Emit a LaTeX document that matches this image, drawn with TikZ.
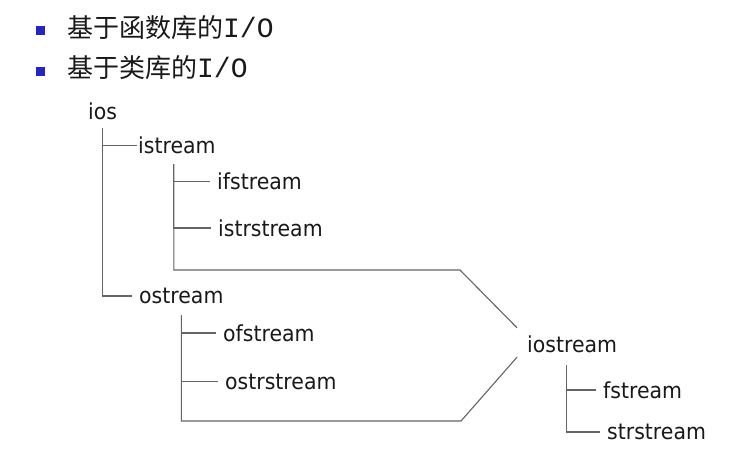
\documentclass[tikz,border=0pt]{standalone}
\usepackage{fontspec}
\usepackage{xcolor}
\usepackage{tikz}
\newfontfamily\cjk{Noto Sans CJK SC}
\newfontfamily\iofont{Liberation Mono}
\newfontfamily\treefont[FakeStretch=0.93]{DejaVu Sans}
\definecolor{ink}{RGB}{25,25,25}
\definecolor{wire}{RGB}{100,100,100}
\definecolor{bulletblue}{RGB}{38,38,190}
\newcommand{\io}{{\iofont\fontsize{28}{32}\selectfont I/O}}
\tikzset{
  heading/.style={anchor=west,inner sep=0pt,text=ink,
    font=\cjk\fontsize{26}{30}\selectfont},
  bulletsq/.style={fill=bulletblue,minimum size=9pt,inner sep=0pt},
  cls/.style={anchor=west,inner xsep=7pt,inner ysep=2pt,text=ink,
    font=\treefont\fontsize{22}{26}\selectfont},
  wireline/.style={wire,line width=1.1pt}
}

\begin{document}
\begin{tikzpicture}[x=1pt,y=-1pt]
  \useasboundingbox[fill=white] (0,0) rectangle (753,450);
  % headings
  \node[bulletsq] (b1) at (40,30.5) {};
  \node[bulletsq] (b2) at (40,71.5) {};
  \node[heading] (h1) at (67,28) {基于函数库的\io};
  \node[heading] (h2) at (67,67.5) {基于类库的\io};
  % class tree
  \node[cls] (ios) at (81,111.5) {ios};
  \node[cls] (istream) at (131,145.5) {istream};
  \node[cls] (ifstream) at (210,181.5) {ifstream};
  \node[cls] (istrstream) at (211,228) {istrstream};
  \node[cls] (ostream) at (132,296) {ostream};
  \node[cls] (ofstream) at (216,333) {ofstream};
  \node[cls] (ostrstream) at (218,381.5) {ostrstream};
  \node[cls] (iostream) at (520,344.5) {iostream};
  \node[cls] (fstream) at (596,390) {fstream};
  \node[cls] (strstream) at (600,432) {strstream};
  \coordinate (ibend) at (460,270);
  \coordinate (obend) at (461,421);
  \draw[wireline] ([yshift=-6pt]ios.south) |- ([xshift=6pt]istream.west);
  \draw[wireline] ([yshift=-6pt]ios.south) |- (ostream.west);
  \draw[wireline] ([xshift=-3pt,yshift=-8pt]istream.south) |- (ifstream.west);
  \draw[wireline] ([xshift=-3pt,yshift=-8pt]istream.south) |- (istrstream.west);
  \draw[wireline] ([xshift=-3pt,yshift=-8pt]istream.south) |- (ibend)
    -- ([xshift=-3pt,yshift=6pt]iostream.north west);
  \draw[wireline] ([yshift=-9pt]ostream.south) |- (ofstream.west);
  \draw[wireline] ([yshift=-9pt]ostream.south) |- (ostrstream.west);
  \draw[wireline] ([yshift=-9pt]ostream.south) |- (obend)
    -- ([xshift=-3pt,yshift=-2pt]iostream.south west);
  \draw[wireline] ([xshift=-6pt,yshift=-10pt]iostream.south) |- (fstream.west);
  \draw[wireline] ([xshift=-6pt,yshift=-10pt]iostream.south) |- (strstream.west);
\end{tikzpicture}
\end{document}
